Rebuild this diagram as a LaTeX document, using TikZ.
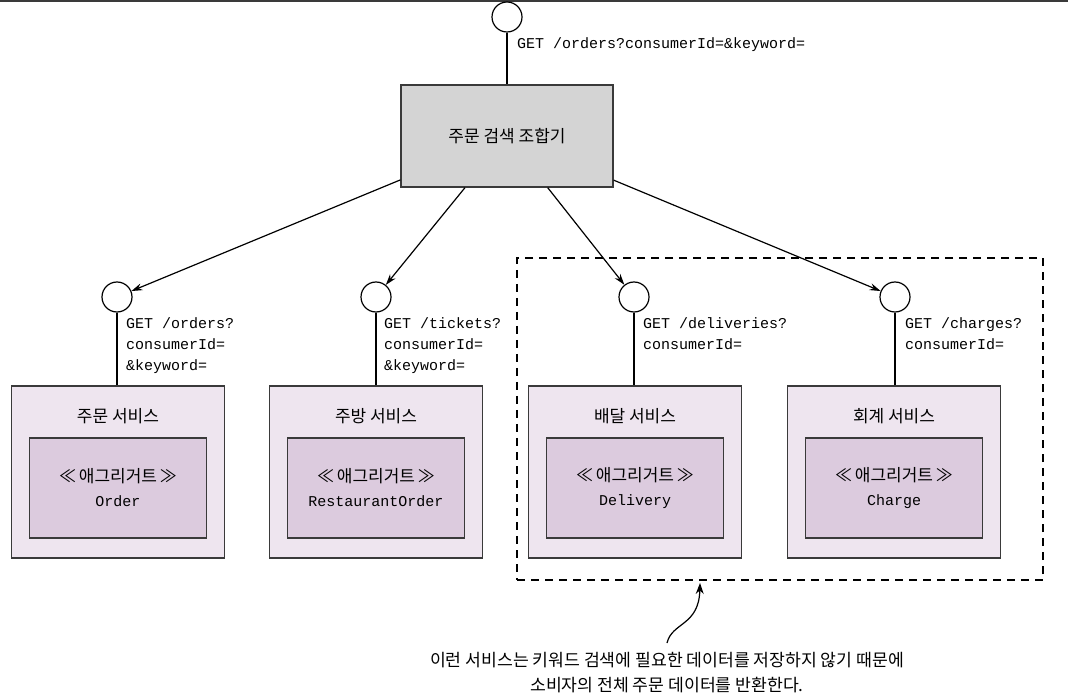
\documentclass[tikz,border=0pt]{standalone}
\usepackage{fontspec}
\setmainfont{Noto Sans CJK KR}
\newfontfamily\codefont{Liberation Mono}
\usepackage{xcolor}
\definecolor{ServiceLilac}{HTML}{EEE5EF}
\definecolor{AggregateLilac}{HTML}{DCCBDE}
\definecolor{ComposerGray}{HTML}{D4D4D4}
\definecolor{EdgeGray}{HTML}{3A3A3A}
\usetikzlibrary{arrows.meta, positioning}

\begin{document}
\begin{tikzpicture}[x=1pt, y=-1pt,
    port/.style={circle, draw=black, fill=white, line width=1.2pt, minimum size=30pt, inner sep=0pt},
    composer/.style={draw=EdgeGray, fill=ComposerGray, line width=1.3pt, minimum width=212pt, minimum height=102pt, font=\fontsize{17}{20}\selectfont},
    service/.style={draw=EdgeGray, fill=ServiceLilac, line width=1.3pt, minimum width=213pt, minimum height=172pt},
    aggregate/.style={draw=EdgeGray, fill=AggregateLilac, line width=1.3pt, minimum width=177pt, minimum height=100pt, align=center, font=\fontsize{17}{24}\selectfont},
    title/.style={font=\fontsize{17}{20}\selectfont},
    api/.style={anchor=north west, align=left, inner sep=0pt, font=\codefont\fontsize{15}{21}\selectfont},
    link/.style={line width=1.2pt, -{Stealth[length=11pt, width=7pt]}}]
    \useasboundingbox (0,0) rectangle (1068,700);
    \draw [EdgeGray, line width=1.6pt] (0,0.8) -- (1068,0.8);
    % composer on top
    \node [port] (top) at (507,17) {};
    \node [composer] (composer) at (507,136) {주문 검색 조합기};
    \node [api, anchor=west] (topapi) at (517,45) {GET /orders?consumerId=\&keyword=};
    \draw [line width=1.1pt] (top) -- (composer);
    % services
    \node [service] (svc1) at (118,472) {};
    \node [service] (svc2) at (376,472) {};
    \node [service] (svc3) at (635,472) {};
    \node [service] (svc4) at (894,472) {};
    \node [title] (name1) at (118,416) {주문 서비스};
    \node [title] (name2) at (376,416) {주방 서비스};
    \node [title] (name3) at (635,416) {배달 서비스};
    \node [title] (name4) at (894,416) {회계 서비스};
    \node [aggregate] (agg1) at (118,488) {≪\,애그리거트\,≫\\{\codefont\fontsize{15}{24}\selectfont Order}};
    \node [aggregate] (agg2) at (376,488) {≪\,애그리거트\,≫\\{\codefont\fontsize{15}{24}\selectfont RestaurantOrder}};
    \node [aggregate] (agg3) at (635,488) {≪\,애그리거트\,≫\\{\codefont\fontsize{15}{24}\selectfont Delivery}};
    \node [aggregate] (agg4) at (894,488) {≪\,애그리거트\,≫\\{\codefont\fontsize{15}{24}\selectfont Charge}};
    \node [port] (port1) at (117,297) {};
    \node [port] (port2) at (376,297) {};
    \node [port] (port3) at (634,297) {};
    \node [port] (port4) at (895,297) {};
    \draw [line width=1.1pt] (port1) -- (port1 |- svc1.north);
    \draw [line width=1.1pt] (port2) -- (port2 |- svc2.north);
    \draw [line width=1.1pt] (port3) -- (port3 |- svc3.north);
    \draw [line width=1.1pt] (port4) -- (port4 |- svc4.north);
    \node [api] (api1) at (126,317) {GET /orders?\\consumerId=\\\&keyword=};
    \node [api] (api2) at (384,317) {GET /tickets?\\consumerId=\\\&keyword=};
    \node [api] (api3) at (643,317) {GET /deliveries?\\consumerId=};
    \node [api] (api4) at (905,317) {GET /charges?\\consumerId=};
    \draw [link] (composer) -- (port1);
    \draw [link] (composer) -- (port2);
    \draw [link] (composer) -- (port3);
    \draw [link] (composer) -- (port4);
    % services without keyword search
    \node [draw=black, line width=1.3pt, dash pattern=on 8pt off 6pt, minimum width=526pt, minimum height=322pt] (group) at (780,419) {};
    \node [align=center, font=\fontsize{17.2}{25}\selectfont] (note) at (667,673) {이런 서비스는 키워드 검색에 필요한 데이터를 저장하지 않기 때문에\\소비자의 전체 주문 데이터를 반환한다.};
    \coordinate (tail) at (667,643);
    \coordinate (tip) at (700,583);
    \draw [line width=1.2pt, -{Stealth[length=11pt, width=8pt]}] (tail) .. controls (672,622) and (699,626) .. (tip);
\end{tikzpicture}
\end{document}
